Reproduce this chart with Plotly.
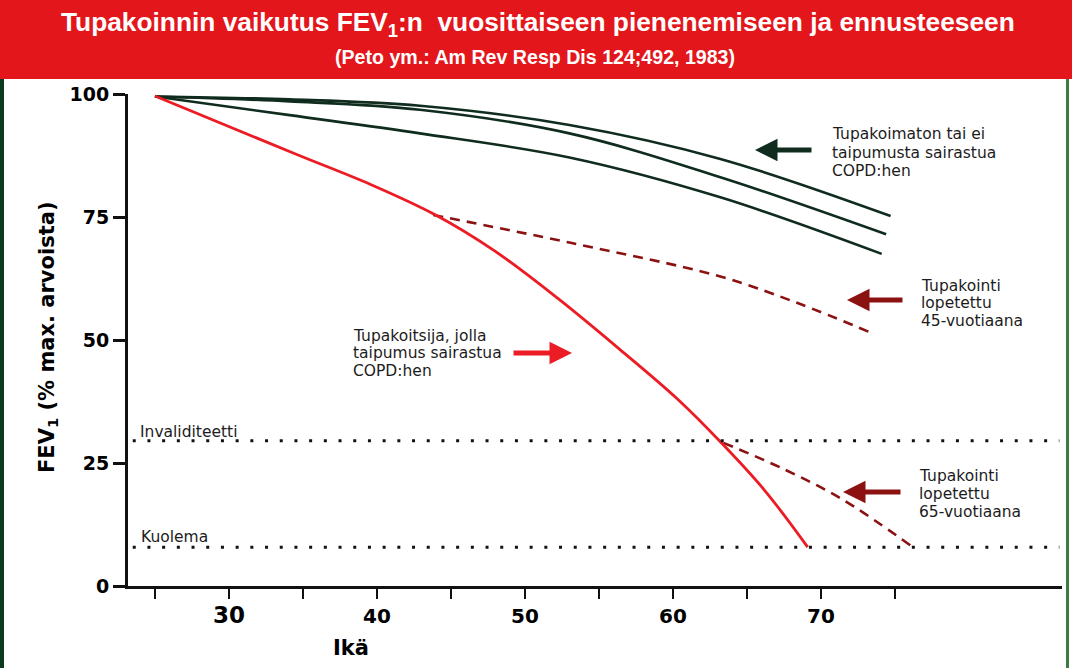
import plotly.graph_objects as go

# ---------------- data ----------------
age_nonsmoker_a = [25, 34.1, 42.9, 53.0, 63.2, 74.7]
fev_nonsmoker_a = [99.5, 98.9, 97.6, 93.7, 86.8, 75.2]
age_nonsmoker_b = [25, 34.1, 42.9, 53.0, 63.2, 74.4]
fev_nonsmoker_b = [99.5, 98.5, 96.8, 92.0, 83.1, 71.5]
age_nonsmoker_c = [25, 34.1, 42.9, 53.0, 63.2, 74.1]
fev_nonsmoker_c = [99.5, 95.7, 92.0, 87.1, 79.0, 67.5]

age_smoker = [25.0, 34.5, 39.5, 43.9, 48.0, 52.2, 56.4, 60.3, 63.2, 66.2, 69.1]
fev_smoker = [99.6, 87.8, 81.7, 75.5, 68.0, 58.5, 48.1, 38.0, 29.3, 19.4, 7.9]

age_quit45 = [43.8, 53.0, 63.2, 68.6, 73.2]
fev_quit45 = [75.4, 69.8, 62.9, 57.3, 51.7]

age_quit65 = [63.4, 67.6, 71.5, 76.2]
fev_quit65 = [29.1, 23.6, 17.5, 7.9]

threshold_age = [23.5, 86.1]
disability_level = 29.5
death_level = 7.9

x_major_ticks = [30, 40, 50, 60, 70]
x_major_labels = ["<span style='font-size:23px'>30</span>", "40", "50", "60", "70"]
x_minor_ticks = [25, 35, 45, 55, 65, 75]
y_ticks = [0, 25, 50, 75, 100]

title_text = "Tupakoinnin vaikutus FEV<sub>1</sub>:n  vuosittaiseen pienenemiseen ja ennusteeseen"
subtitle_text = "(Peto ym.: Am Rev Resp Dis 124;492, 1983)"
y_title = "FEV<sub>1</sub> (% max. arvoista)"
x_title = "Ikä"

# ---------------- geometry / styles ----------------
W, H = 1072, 668
L, R, T, B = 128, 1062, 94, 586
XR = [23.18, 86.28]
YR = [0, 100]

GREEN = "#0f2c1e"
RED = "#ec1c24"
DARKRED = "#8c1212"
BAND = "#e3161b"
TXT = "#1c1c1c"
BODY_FONT = "DejaVu Sans, Liberation Sans, Arial, sans-serif"
BOLD_FONT = "DejaVu Sans, Liberation Sans, Arial, sans-serif"
TITLE_FONT = "Liberation Sans Narrow, Arial Narrow, Liberation Sans, Arial, sans-serif"


def pxp(px):
    return (px - L) / (R - L)


def pyp(py):
    return (B - py) / (B - T)


def px2x(px):
    return XR[0] + (px - L) / (R - L) * (XR[1] - XR[0])


def py2y(py):
    return YR[0] + (B - py) / (B - T) * (YR[1] - YR[0])


fig = go.Figure()

for ax_, ay_ in [(age_nonsmoker_a, fev_nonsmoker_a),
                 (age_nonsmoker_b, fev_nonsmoker_b),
                 (age_nonsmoker_c, fev_nonsmoker_c)]:
    fig.add_trace(go.Scatter(x=ax_, y=ay_, mode="lines",
                             line=dict(color=GREEN, width=2.6, shape="spline", smoothing=1.0),
                             hoverinfo="skip"))

fig.add_trace(go.Scatter(x=age_quit45, y=fev_quit45, mode="lines",
                         line=dict(color=DARKRED, width=2.6, dash="10px,7px",
                                   shape="spline", smoothing=1.0),
                         hoverinfo="skip"))
fig.add_trace(go.Scatter(x=age_quit65, y=fev_quit65, mode="lines",
                         line=dict(color=DARKRED, width=2.6, dash="10px,7px",
                                   shape="spline", smoothing=1.0),
                         hoverinfo="skip"))
fig.add_trace(go.Scatter(x=age_smoker, y=fev_smoker, mode="lines",
                         line=dict(color=RED, width=2.8, shape="spline", smoothing=1.0),
                         hoverinfo="skip"))

for lvl in [disability_level, death_level]:
    fig.add_trace(go.Scatter(x=threshold_age, y=[lvl, lvl], mode="lines",
                             line=dict(color="#111111", width=3, dash="3px,11.7px"),
                             hoverinfo="skip"))

annotations = []

# title band texts
annotations.append(dict(xref="paper", yref="paper", x=pxp(538), y=pyp(24),
                        text=title_text, showarrow=False, xanchor="center", yanchor="middle",
                        font=dict(family=TITLE_FONT, size=26.3, color="white", weight="bold")))
annotations.append(dict(xref="paper", yref="paper", x=pxp(535), y=pyp(57),
                        text=subtitle_text, showarrow=False, xanchor="center", yanchor="middle",
                        font=dict(family=TITLE_FONT, size=19.6, color="white", weight="bold")))

# axis titles
annotations.append(dict(xref="paper", yref="paper", x=pxp(48), y=pyp(338),
                        text=y_title, showarrow=False, textangle=-90,
                        xanchor="center", yanchor="middle",
                        font=dict(family=BOLD_FONT, size=21, color="black", weight="bold")))
annotations.append(dict(xref="paper", yref="paper", x=pxp(351), y=pyp(648),
                        text=x_title, showarrow=False, xanchor="center", yanchor="middle",
                        font=dict(family=BOLD_FONT, size=21, color="black", weight="bold")))

# text blocks, one annotation per line (left edge px, baselines px, lines)
blocks = [
    (830, [140, 158, 176], ["Tupakoimaton tai ei", "taipumusta sairastua", "COPD:hen"]),
    (919, [291, 308, 326], ["Tupakointi", "lopetettu", "45-vuotiaana"]),
    (351, [341, 358, 376], ["Tupakoitsija, jolla", "taipumus sairastua", "COPD:hen"]),
    (917, [481, 499, 517], ["Tupakointi", "lopetettu", "65-vuotiaana"]),
    (138, [437], ["Invaliditeetti"]),
    (139, [542], ["Kuolema"]),
]
for left, baselines, lines in blocks:
    for bl, line in zip(baselines, lines):
        annotations.append(dict(xref="paper", yref="paper", x=pxp(left), y=pyp(bl - 5.5),
                                text=line, showarrow=False, xanchor="left", yanchor="middle",
                                font=dict(family=BODY_FONT, size=15.5, color=TXT)))

# block arrows (tip px, tip py, tail offset px, colour)
arrows = [
    (755, 150, 58, GREEN),
    (847, 300, 57, DARKRED),
    (843, 492, 59, DARKRED),
    (572, 353, -60, RED),
]
for tx, ty, off, col in arrows:
    annotations.append(dict(xref="x", yref="y", x=px2x(tx), y=py2y(ty), ax=off, ay=0,
                            text="", showarrow=True, arrowhead=2, arrowsize=0.9,
                            arrowwidth=5, arrowcolor=col, standoff=0))

shapes = [
    # red title band
    dict(type="rect", xref="paper", yref="paper", x0=pxp(0), x1=pxp(W), y0=pyp(79), y1=pyp(0),
         fillcolor=BAND, line=dict(width=0), layer="below"),
    # left dark green border
    dict(type="rect", xref="paper", yref="paper", x0=pxp(0), x1=pxp(4), y0=pyp(H), y1=pyp(79),
         fillcolor="#0b3a1f", line=dict(width=0)),
    # right thin border
    dict(type="rect", xref="paper", yref="paper", x0=pxp(1066), x1=pxp(1069), y0=pyp(H), y1=pyp(79),
         fillcolor="#3f7a45", line=dict(width=0)),
]

fig.update_layout(
    width=W, height=H,
    margin=dict(l=L, r=W - R, t=T, b=H - B, pad=0),
    paper_bgcolor="white", plot_bgcolor="white",
    showlegend=False,
    annotations=annotations,
    shapes=shapes,
    xaxis=dict(range=XR, showgrid=False, zeroline=False,
               showline=True, linecolor="#111111", linewidth=3,
               ticks="outside", ticklen=10, tickwidth=2, tickcolor="#111111",
               tickvals=x_major_ticks, ticktext=x_major_labels,
               tickfont=dict(family=BOLD_FONT, size=20, color="black", weight="bold"),
               minor=dict(tickvals=x_minor_ticks, ticks="outside", ticklen=10,
                          tickwidth=1.5, tickcolor="#111111"),
               fixedrange=True),
    yaxis=dict(range=YR, showgrid=False, zeroline=False,
               showline=True, linecolor="#111111", linewidth=3,
               ticks="outside", ticklen=12, tickwidth=2.5, tickcolor="#111111",
               tickvals=y_ticks,
               tickfont=dict(family=BOLD_FONT, size=19, color="black", weight="bold"),
               fixedrange=True),
)

fig.write_html("out.html", config={"displayModeBar": False},
               post_script="document.body.style.margin='0';document.body.style.overflow='hidden';")
